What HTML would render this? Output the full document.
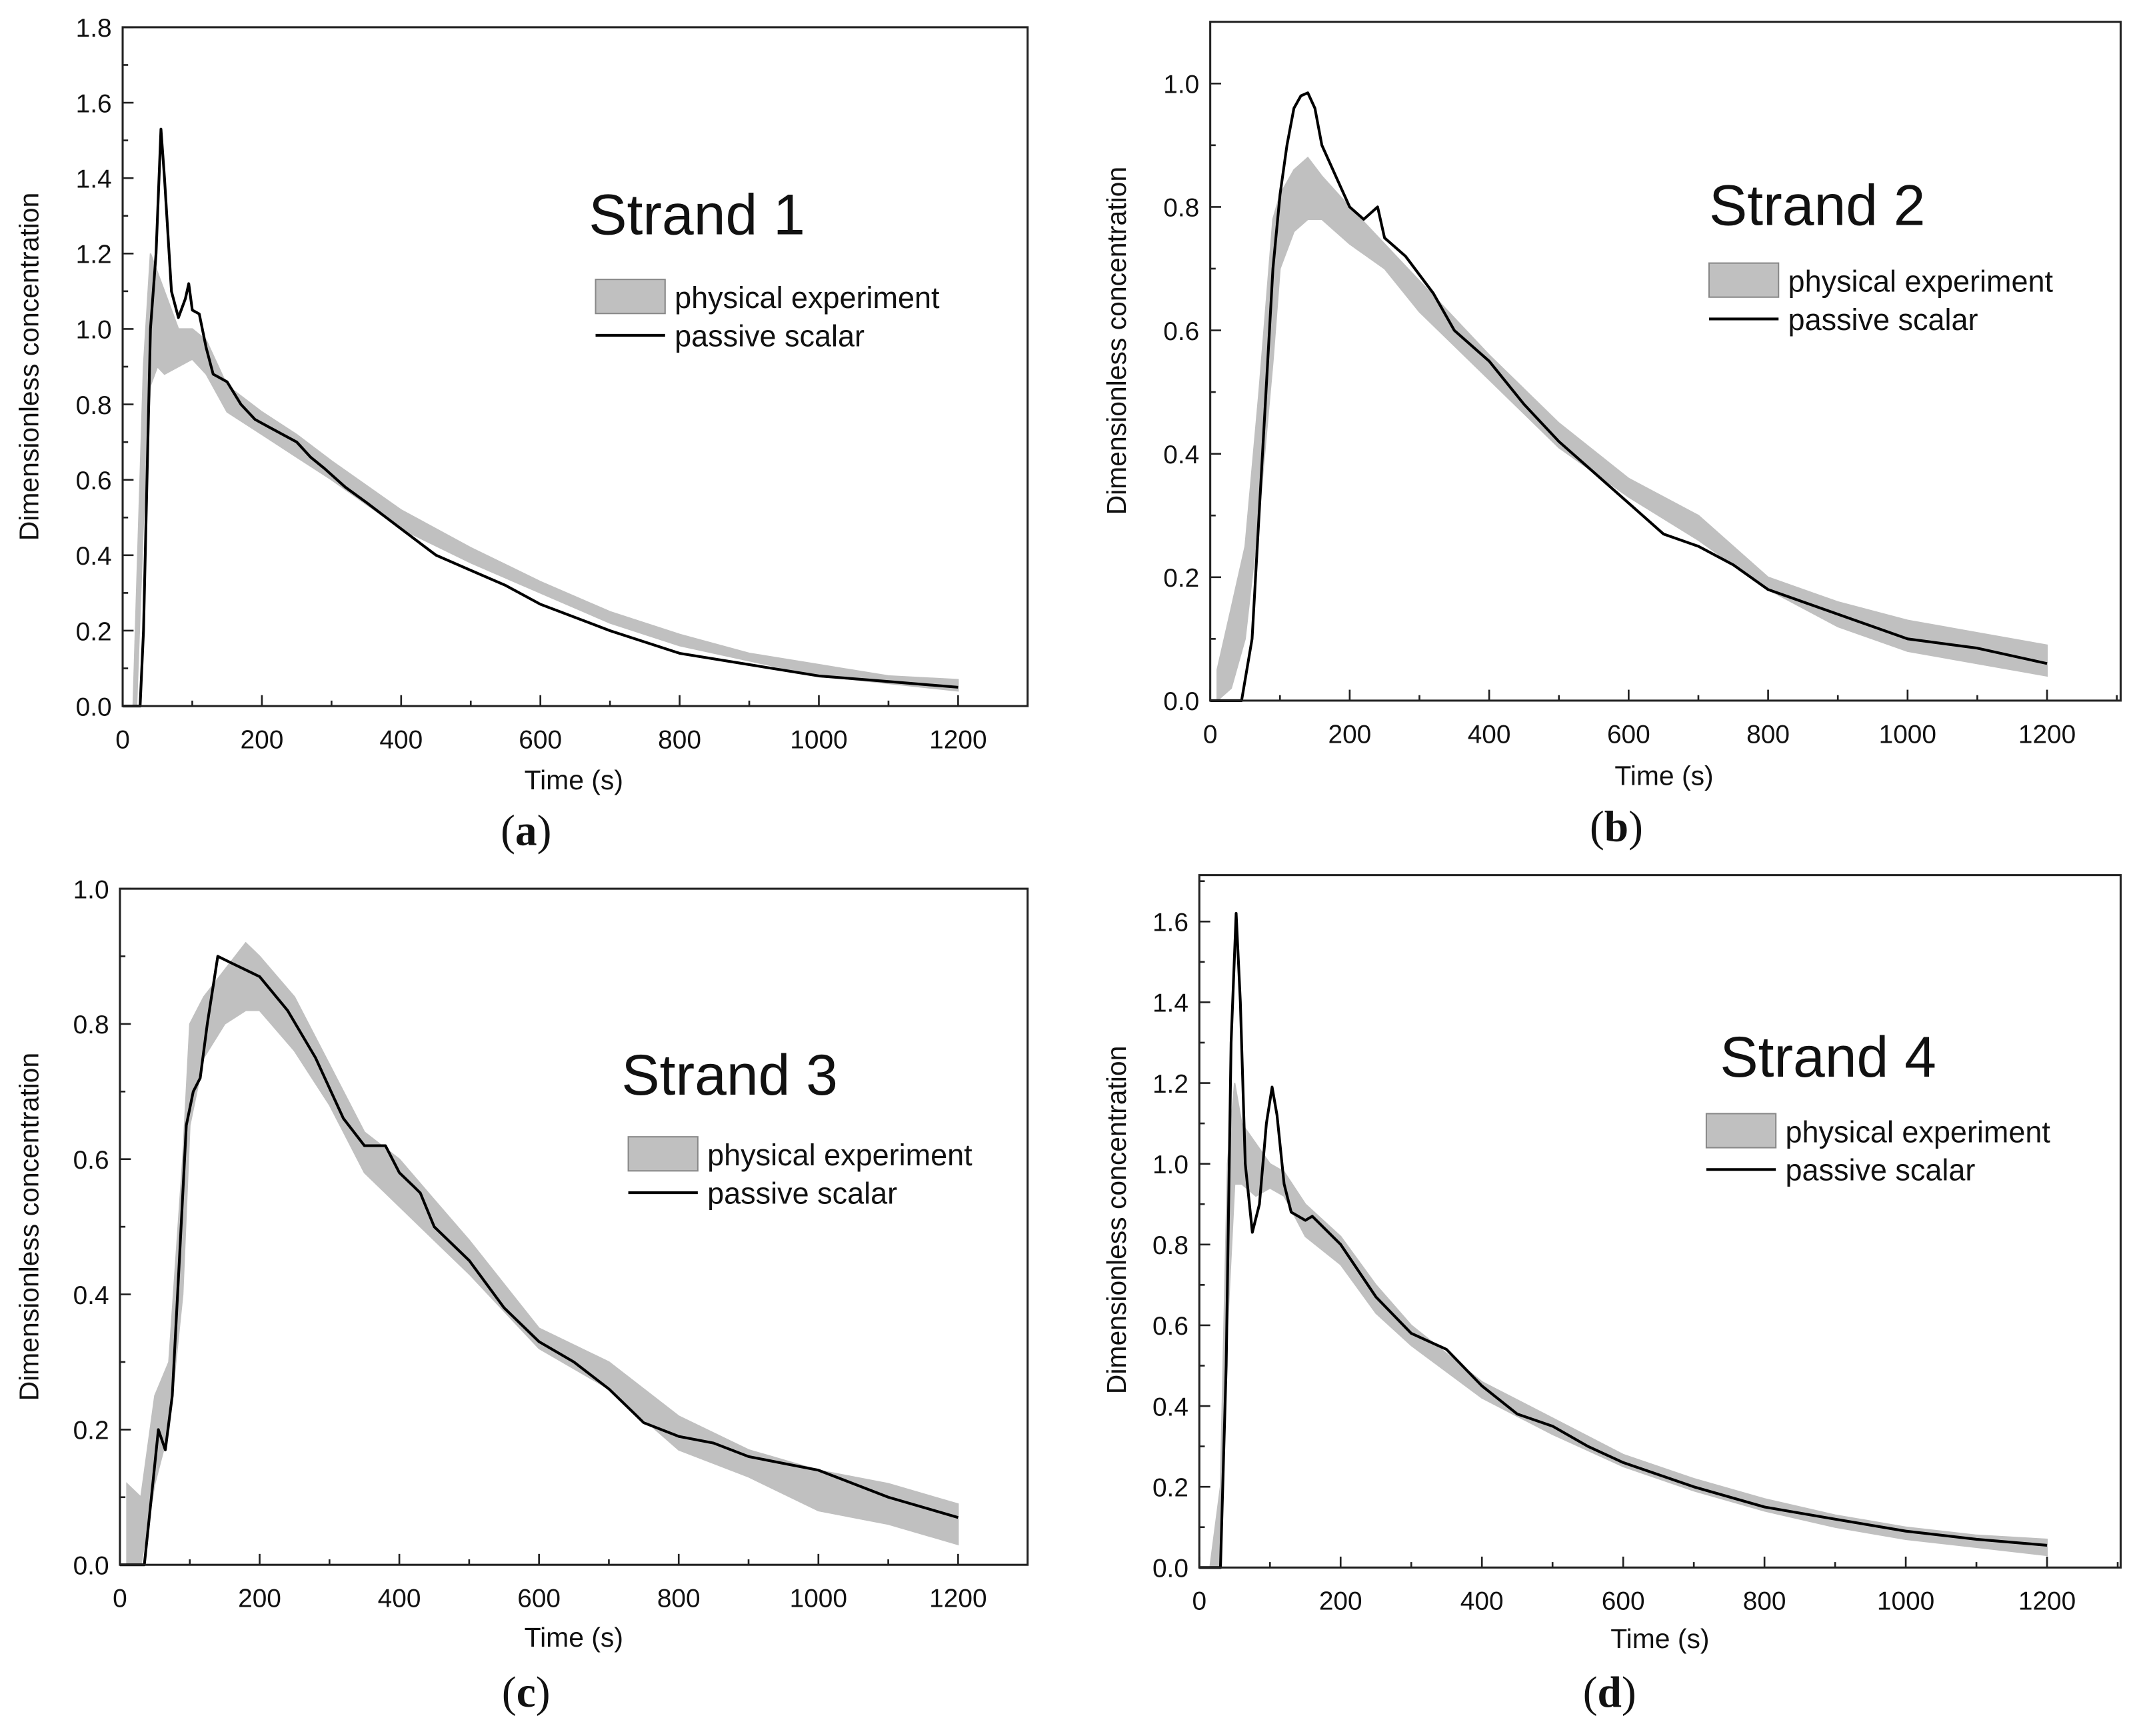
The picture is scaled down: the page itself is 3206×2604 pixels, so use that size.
<!DOCTYPE html>
<html><head><meta charset="utf-8"><style>
html,body{margin:0;padding:0;background:#fff;}
svg{display:block;}
text{font-family:"Liberation Sans",sans-serif;fill:#111;}
text.cap{font-family:"Liberation Serif",serif;}
</style></head><body>
<svg id="fig" width="3206" height="2604" viewBox="0 0 1568 1273.6" preserveAspectRatio="none" xmlns="http://www.w3.org/2000/svg"></svg>
<script>
// Panel (a) Strand 1
const simTimeA=[0,25,30,40,48,55,60,70,80,90,95,100,110,120,130,150,170,190,210,230,250,270,290,320,350,400,450,500,550,600,700,800,900,1000,1100,1200];
const simValA=[0,0,0.2,1.0,1.2,1.53,1.4,1.1,1.03,1.08,1.12,1.05,1.04,0.95,0.88,0.86,0.8,0.76,0.74,0.72,0.7,0.66,0.63,0.58,0.54,0.47,0.4,0.36,0.32,0.27,0.2,0.14,0.11,0.08,0.065,0.05];
const expTimeA=[15,20,30,40,50,60,80,100,120,150,200,250,300,400,500,600,700,800,900,1000,1100,1200];
const expUpA=[0,0.3,0.9,1.2,1.15,1.1,1.0,1.0,0.97,0.85,0.78,0.72,0.65,0.52,0.42,0.33,0.25,0.19,0.14,0.11,0.08,0.07];
const expLoA=[0,0,0.5,0.85,0.9,0.88,0.9,0.92,0.88,0.78,0.72,0.66,0.6,0.47,0.38,0.3,0.22,0.16,0.12,0.08,0.06,0.04];
// Panel (b) Strand 2
const simTimeB=[0,45,60,80,90,100,110,120,130,140,150,160,180,200,220,240,250,280,320,350,400,450,500,550,600,650,700,750,800,900,1000,1100,1200];
const simValB=[0,0,0.1,0.5,0.7,0.82,0.9,0.96,0.98,0.985,0.96,0.9,0.85,0.8,0.78,0.8,0.75,0.72,0.66,0.6,0.55,0.48,0.42,0.37,0.32,0.27,0.25,0.22,0.18,0.14,0.1,0.085,0.06];
const expTimeB=[10,30,50,70,90,100,120,140,160,200,250,300,400,500,600,700,800,900,1000,1100,1200];
const expUpB=[0.05,0.15,0.25,0.5,0.78,0.82,0.86,0.88,0.85,0.8,0.74,0.68,0.56,0.45,0.36,0.3,0.2,0.16,0.13,0.11,0.09];
const expLoB=[0,0.02,0.1,0.3,0.55,0.7,0.76,0.78,0.78,0.74,0.7,0.63,0.52,0.41,0.33,0.26,0.18,0.12,0.08,0.06,0.04];
// Panel (c) Strand 3
const simTimeC=[0,35,45,55,65,75,85,95,105,115,125,140,160,200,240,280,320,350,380,400,420,430,450,500,550,600,650,700,750,800,850,900,950,1000,1100,1200];
const simValC=[0,0,0.1,0.2,0.17,0.25,0.45,0.65,0.7,0.72,0.8,0.9,0.89,0.87,0.82,0.75,0.66,0.62,0.62,0.58,0.56,0.55,0.5,0.45,0.38,0.33,0.3,0.26,0.21,0.19,0.18,0.16,0.15,0.14,0.1,0.07];
const expTimeC=[10,30,50,70,90,100,120,150,180,200,250,300,350,400,450,500,600,700,800,900,1000,1100,1200];
const expUpC=[0.12,0.1,0.25,0.3,0.6,0.8,0.84,0.88,0.92,0.9,0.84,0.74,0.64,0.6,0.54,0.48,0.35,0.3,0.22,0.17,0.14,0.12,0.09];
const expLoC=[0,0,0.12,0.2,0.4,0.65,0.75,0.8,0.82,0.82,0.76,0.68,0.58,0.53,0.48,0.43,0.32,0.26,0.17,0.13,0.08,0.06,0.03];
// Panel (d) Strand 4
const simTimeD=[0,30,38,45,52,58,65,75,85,95,103,110,120,130,140,150,160,200,250,300,350,400,450,500,550,600,700,800,900,1000,1100,1200];
const simValD=[0,0,0.5,1.3,1.62,1.4,1.0,0.83,0.9,1.1,1.19,1.12,0.95,0.88,0.87,0.86,0.87,0.8,0.67,0.58,0.54,0.45,0.38,0.35,0.3,0.26,0.2,0.15,0.12,0.09,0.07,0.055];
const expTimeD=[15,30,40,50,60,80,100,120,150,200,250,300,400,500,600,700,800,900,1000,1100,1200];
const expUpD=[0,0.2,1.0,1.2,1.1,1.05,1.0,0.98,0.9,0.82,0.7,0.6,0.46,0.37,0.28,0.22,0.17,0.13,0.1,0.08,0.07];
const expLoD=[0,0,0.6,0.95,0.95,0.92,0.94,0.92,0.82,0.75,0.63,0.55,0.42,0.33,0.25,0.19,0.14,0.1,0.07,0.05,0.03];
const xTickLabels=["0","200","400","600","800","1000","1200"];
const yTicksA=["0.0","0.2","0.4","0.6","0.8","1.0","1.2","1.4","1.6","1.8"];
const yTicksB=["0.0","0.2","0.4","0.6","0.8","1.0"];
const yTicksC=["0.0","0.2","0.4","0.6","0.8","1.0"];
const yTicksD=["0.0","0.2","0.4","0.6","0.8","1.0","1.2","1.4","1.6"];

const NS="http://www.w3.org/2000/svg";
const svg=document.getElementById('fig');
function mk(tag,attrs,parent,txt){const e=document.createElementNS(NS,tag);for(const k in attrs)e.setAttribute(k,attrs[k]);if(txt!==undefined)e.textContent=txt;(parent||svg).appendChild(e);return e;}

const panels=[
 {id:'a',L:90,R:754,T:20,B:518,x1200:703,yMax:1.8,yTicks:yTicksA,st:simTimeA,sv:simValA,et:expTimeA,eu:expUpA,el:expLoA,title:'Strand 1',tx:432,ty:172,lx:437,ly:205,yl:[22,269],xl:[421,579],cap:[386,620]},
 {id:'b',L:888,R:1556,T:16,B:514,x1200:1502,yMax:1.1,yTicks:yTicksB,st:simTimeB,sv:simValB,et:expTimeB,eu:expUpB,el:expLoB,title:'Strand 2',tx:1254,ty:165,lx:1254,ly:193,yl:[820,250],xl:[1221,576],cap:[1186,617]},
 {id:'c',L:88,R:754,T:652,B:1148,x1200:703,yMax:1.0,yTicks:yTicksC,st:simTimeC,sv:simValC,et:expTimeC,eu:expUpC,el:expLoC,title:'Strand 3',tx:456,ty:803,lx:461,ly:834,yl:[22,900],xl:[421,1208],cap:[386,1252]},
 {id:'d',L:880,R:1556,T:642,B:1150,x1200:1502,yMax:1.715,yTicks:yTicksD,st:simTimeD,sv:simValD,et:expTimeD,eu:expUpD,el:expLoD,title:'Strand 4',tx:1262,ty:790,lx:1252,ly:817,yl:[820,895],xl:[1218,1209],cap:[1181,1252]}
];

panels.forEach(p=>{
 const g=mk('g',{});
 
 
 const xs=v=>p.L+(p.x1200-p.L)*v/1200;
 const ys=v=>p.B-(p.B-p.T)*v/p.yMax;
 let pts=p.et.map((t,i)=>xs(t).toFixed(1)+','+ys(p.eu[i]).toFixed(1));
 for(let i=p.et.length-1;i>=0;i--)pts.push(xs(p.et[i]).toFixed(1)+','+ys(p.el[i]).toFixed(1));
 const band=mk('polygon',{points:pts.join(' '),fill:'#c0c0c0',stroke:'#c0c0c0','stroke-width':1},g);
 
 
 const line=mk('polyline',{points:p.st.map((t,i)=>xs(t).toFixed(1)+','+ys(p.sv[i]).toFixed(1)).join(' '),fill:'none',stroke:'#000','stroke-width':2,'stroke-linejoin':'round'},g);
 
 
 const fr=mk('rect',{x:p.L,y:p.T,width:p.R-p.L,height:p.B-p.T,fill:'none',stroke:'#222','stroke-width':1.5},g);
 
 
 for(let v=0;v<=1300;v+=100){const x=xs(v);if(x>p.R-1)break;const len=(v%200===0)?8:4;mk('line',{x1:x,y1:p.B,x2:x,y2:p.B-len,stroke:'#222','stroke-width':1.3},g);}
 xTickLabels.forEach(l=>{const t=mk('text',{x:xs(+l),y:p.B+31,'font-size':19,'text-anchor':'middle'},g,l);});
 for(let k=0;k*0.1<=p.yMax+1e-6;k++){const y=ys(k*0.1);const len=(k%2===0)?8:4;mk('line',{x1:p.L,y1:y,x2:p.L+len,y2:y,stroke:'#222','stroke-width':1.3},g);}
 p.yTicks.forEach(l=>{const t=mk('text',{x:p.L-8,y:ys(+l)+7,'font-size':19,'text-anchor':'end'},g,l);});
 const yt=mk('text',{x:0,y:0,'font-size':20,'text-anchor':'middle',transform:`translate(${p.yl[0]+6},${p.yl[1]}) rotate(-90)`},g,'Dimensionless concentration');
 
 const xt=mk('text',{x:p.xl[0],y:p.xl[1],'font-size':20,'text-anchor':'middle'},g,'Time (s)');
 
 const ti=mk('text',{x:p.tx,y:p.ty,'font-size':42},g,p.title);
 
 const lg=mk('g',{},g);
 
 mk('rect',{x:p.lx,y:p.ly,width:51,height:25,fill:'#c0c0c0',stroke:'#888','stroke-width':1},lg);
 mk('text',{x:p.lx+58,y:p.ly+21,'font-size':22},lg,'physical experiment');
 mk('line',{x1:p.lx,y1:p.ly+41,x2:p.lx+51,y2:p.ly+41,stroke:'#000','stroke-width':2},lg);
 mk('text',{x:p.lx+58,y:p.ly+49,'font-size':22},lg,'passive scalar');
 const cp=mk('text',{x:p.cap[0],y:p.cap[1],'font-size':32,'text-anchor':'middle','class':'cap'},g);
 
 mk('tspan',{},cp,'(');mk('tspan',{'font-weight':'bold'},cp,p.id);mk('tspan',{},cp,')');
});
</script>
</body></html>
